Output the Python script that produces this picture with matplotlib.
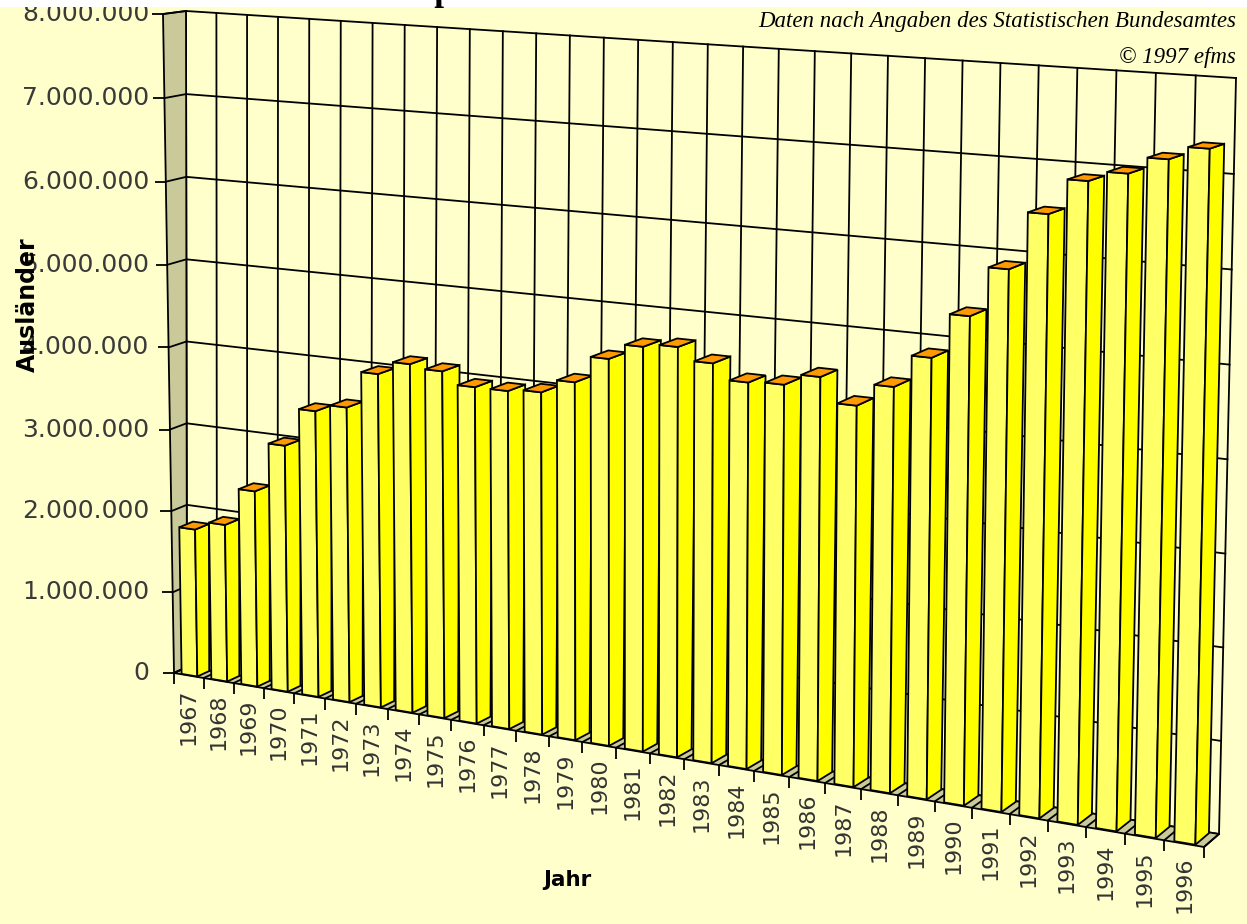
import numpy as np
import matplotlib
matplotlib.use("Agg")
import matplotlib.pyplot as plt
from matplotlib.transforms import (Transform, ScaledTranslation, Affine2D, Bbox, TransformedBbox,
                                   blended_transform_factory)
from matplotlib.patches import Polygon, Rectangle
from matplotlib.lines import Line2D
from matplotlib import markers as mmarkers
from matplotlib import font_manager as fm

# ---------------- data ----------------
years = ["1967", "1968", "1969", "1970", "1971", "1972", "1973", "1974", "1975", "1976",
         "1977", "1978", "1979", "1980", "1981", "1982", "1983", "1984", "1985", "1986",
         "1987", "1988", "1989", "1990", "1991", "1992", "1993", "1994", "1995", "1996"]
values = [1810000, 1920000, 2380000, 2980000, 3440000, 3530000, 3970000, 4130000, 4090000, 3950000,
          3950000, 3980000, 4140000, 4450000, 4630000, 4670000, 4530000, 4360000, 4380000, 4510000,
          4240000, 4490000, 4850000, 5340000, 5880000, 6500000, 6880000, 6990000, 7170000, 7310000]
y_ticks = [0, 1000000, 2000000, 3000000, 4000000, 5000000, 6000000, 7000000, 8000000]
y_tick_labels = ["0", "1.000.000", "2.000.000", "3.000.000", "4.000.000",
                 "5.000.000", "6.000.000", "7.000.000", "8.000.000"]
title = "Ausländer in der Bundesrepublik Deutschland von 1967 bis 1996"
source = "Daten nach Angaben des Statistischen Bundesamtes"
copyright_note = "© 1997 efms"
x_title = "Jahr"
y_title = "Ausländer"

# ---------------- layout / style ----------------
W, H = 1247, 924
NCAT = len(years)
YMAX = y_ticks[-1]
BACK = [(187, 667), (1219, 834), (1236, 78), (186, 11)]    # back wall corners (px)
FRONT = [(174, 673), (1204, 847), (1220, 82), (163, 14)]   # front plane corners (px)
BG = "#FFFFCC"
GRAY = "#C9C99A"
FRONT_C = "#FFFF66"
SIDE_C = "#FFFF00"
TOP_C = "#FF9900"
LW = 1.3
ZF, ZB = 0.95, 0.05
HALF = 0.265


def homography(quad):
    src = [(0, 0), (1, 0), (1, 1), (0, 1)]
    A, b = [], []
    for (u, v), (X, Y) in zip(src, quad):
        A.append([u, v, 1, 0, 0, 0, -u * X, -v * X]); b.append(X)
        A.append([0, 0, 0, u, v, 1, -u * Y, -v * Y]); b.append(Y)
    h = np.linalg.solve(np.array(A, float), np.array(b, float))
    return np.append(h, 1.0).reshape(3, 3)


HB, HF = homography(BACK), homography(FRONT)


def apply_h(Hm, u, v):
    w = Hm[2, 0] * u + Hm[2, 1] * v + Hm[2, 2]
    return ((Hm[0, 0] * u + Hm[0, 1] * v + Hm[0, 2]) / w,
            (Hm[1, 0] * u + Hm[1, 1] * v + Hm[1, 2]) / w)


class Proj(Transform):
    """3D perspective-like projection of a chart plane into pixel space."""
    input_dims = 2
    output_dims = 2
    is_separable = False
    has_inverse = False

    def __init__(self, mode, const):
        super().__init__()
        self.mode = mode
        self.const = const

    def transform_non_affine(self, values):
        vals = np.asarray(values, float)
        single = vals.ndim == 1
        vals = vals.reshape(-1, 2)
        a, b = vals[:, 0], vals[:, 1]
        c = np.full_like(a, self.const)
        if self.mode == "xy":
            x, y, z = a, b, c
        elif self.mode == "zy":
            x, y, z = c, b, a
        else:  # "xz"
            x, y, z = a, c, b
        u, v = x / NCAT, y / YMAX
        bx, by = apply_h(HB, u, v)
        fx, fy = apply_h(HF, u, v)
        out = np.column_stack([(1 - z) * bx + z * fx, (1 - z) * by + z * fy])
        return out[0] if single else out


fm_names = {f.name for f in fm.fontManager.ttflist}
NARROW = "Liberation Sans Narrow" in fm_names

fig = plt.figure(figsize=(W / 100, H / 100), dpi=100, facecolor="white")
ax = fig.add_axes([0, 0, 1, 1])
ax.set_xlim(0, W)
ax.set_ylim(H, 0)
ax.set_autoscale_on(False)
ax.axis("off")

bg = Rectangle((0, 7), W, H - 7, facecolor=BG, edgecolor="none", zorder=0)
ax.add_patch(bg)
chart_box = TransformedBbox(Bbox([[0, 7], [W, H]]), ax.transData)


def T(mode, const):
    return Proj(mode, const) + ax.transData


def add_line(mode, const, a, b, z=1, **kw):
    ln = Line2D(a, b, color="black", lw=LW, transform=T(mode, const), zorder=z,
                solid_capstyle="projecting", **kw)
    ln.set_clip_box(chart_box)
    ax.add_line(ln)
    return ln


def add_poly(mode, const, pts, fc, z=2, lw=LW):
    p = Polygon(pts, closed=True, facecolor=fc, edgecolor="black", lw=lw,
                transform=T(mode, const), zorder=z, joinstyle="miter")
    p.set_clip_box(chart_box)
    ax.add_patch(p)
    return p


# back wall grid
for v in y_ticks:
    add_line("xy", 0.0, [0, NCAT], [v, v], z=1)
for k in range(NCAT + 1):
    add_line("xy", 0.0, [k, k], [0, YMAX], z=1)

# left wall
add_poly("zy", 0.0, [(0, 0), (1, 0), (1, YMAX), (0, YMAX)], GRAY, z=2)
for v in y_ticks:
    add_line("zy", 0.0, [0, 1], [v, v], z=2.1)

# floor
add_poly("xz", 0.0, [(0, 0), (NCAT, 0), (NCAT, 1), (0, 1)], GRAY, z=2)
for k in range(NCAT + 1):
    add_line("xz", 0.0, [k, k], [0, 1], z=2.1)

# bars (left to right: right-hand bars are nearer the viewer)
for i, h in enumerate(values):
    x0, x1 = i + 0.5 - HALF, i + 0.5 + HALF
    zo = 3 + i * 0.01
    add_poly("xy", ZF, [(x0, 0), (x1, 0), (x1, h), (x0, h)], FRONT_C, z=zo)
    add_poly("zy", x1, [(ZF, 0), (ZB, 0), (ZB, h), (ZF, h)], SIDE_C, z=zo)
    add_poly("xz", h, [(x0, ZF), (x1, ZF), (x1, ZB), (x0, ZB)], TOP_C, z=zo + 0.001)

# ticks
tl = Line2D([0] * len(y_ticks), y_ticks, linestyle="none", marker=mmarkers.TICKLEFT,
            markersize=8, markeredgewidth=LW, color="black", transform=T("xy", 1.0), zorder=5)
tl.set_clip_box(chart_box)
ax.add_line(tl)
tx = Line2D(list(range(NCAT + 1)), [0] * (NCAT + 1), linestyle="none", marker=mmarkers.TICKDOWN,
            markersize=8, markeredgewidth=LW, color="black", transform=T("xy", 1.0), zorder=5)
ax.add_line(tx)

# y tick labels (right aligned in a fixed column, height from the projection)
xcol = Affine2D().translate(149, 0) + ax.transData
ylab_tr = blended_transform_factory(xcol, T("xy", 1.0))
for v, lab in zip(y_ticks, y_tick_labels):
    t = ax.text(0, v, lab, transform=ylab_tr, ha="right", va="center",
                fontsize=18, color="#3a3a3a", family="DejaVu Sans", zorder=6, clip_on=True)
    t.set_clip_box(chart_box)

# x tick labels
xoff = ScaledTranslation(0, -13 / 100, fig.dpi_scale_trans)
for i, lab in enumerate(years):
    ax.text(i + 0.5, 0, lab, transform=T("xy", 1.0) + xoff, rotation=90,
            ha="center", va="top", fontsize=16, color="#333333", family="DejaVu Sans", zorder=6)

# axis titles
if NARROW:
    tfam, ysz, xsz = "Liberation Sans Narrow", 23, 20
else:
    tfam, ysz, xsz = "DejaVu Sans", 17, 15.5
ax.text(28, 305, y_title, rotation=90, ha="center", va="center", fontsize=ysz,
        fontweight="bold", family=tfam, color="black", zorder=7)
ax.text(567, 880, x_title, ha="center", va="center", fontsize=xsz,
        fontweight="bold", family=tfam, color="black")

# source notes
ax.text(1236, 22, source, ha="right", va="center", fontsize=16.5, style="italic",
        family="Liberation Serif", color="black")
ax.text(1236, 58, copyright_note, ha="right", va="center", fontsize=16.5, style="italic",
        family="Liberation Serif", color="black")

# title (mostly cut off at the top edge)
ax.text(36, 0.0, title, ha="left", va="baseline", fontsize=25, fontweight="bold",
        family="Liberation Serif", color="black", zorder=7)

fig.savefig("out.png", dpi=100, facecolor="white")
